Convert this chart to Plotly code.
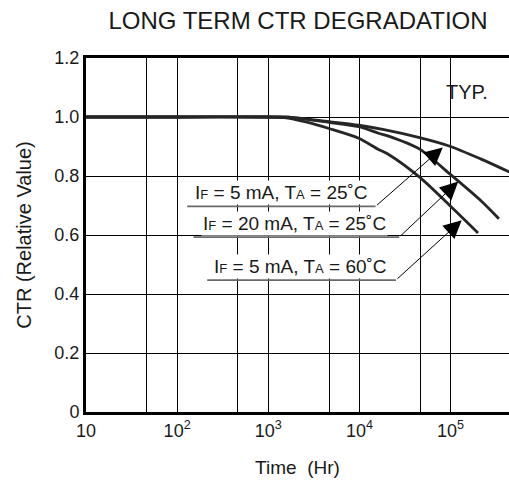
import plotly.graph_objects as go

# ---- data ----
hours_a = [10, 100, 1000, 1780, 4640, 9800, 18600, 45700, 98000, 214000, 446000]
ctr_a = [1.0, 1.0, 1.0, 0.999, 0.984, 0.972, 0.957, 0.930, 0.901, 0.858, 0.813]

hours_b = [10, 100, 1000, 1780, 4640, 9800, 16200, 20900, 45700, 98000, 214000, 339000]
ctr_b = [1.0, 1.0, 1.0, 0.999, 0.982, 0.967, 0.945, 0.935, 0.891, 0.807, 0.717, 0.655]

hours_c = [10, 100, 1000, 1580, 2510, 4640, 9800, 16200, 20900, 45700, 98000, 200000]
ctr_c = [1.0, 1.0, 1.0, 0.997, 0.984, 0.961, 0.928, 0.890, 0.873, 0.796, 0.700, 0.607]

series_names = ["I<sub>F</sub> = 5 mA, T<sub>A</sub> = 25°C",
                "I<sub>F</sub> = 20 mA, T<sub>A</sub> = 25°C",
                "I<sub>F</sub> = 5 mA, T<sub>A</sub> = 60°C"]

x_tickvals = [10, 100, 1000, 10000, 100000]
x_ticktext = ["10", "10<sup>2</sup>", "10<sup>3</sup>", "10<sup>4</sup>", "10<sup>5</sup>"]
x_minor_gridvals = [46.4, 464, 4640, 46400]
y_tickvals = [0, 0.2, 0.4, 0.6, 0.8, 1.0, 1.2]
y_ticktext = ["0", "0.2", "0.4", "0.6", "0.8", "1.0", "1.2"]

# label placement (log10 hours, CTR)
label_text = ["I<span style='font-size:13px'>F</span> = 5 mA, T<span style='font-size:13px'>A</span> = 25˚C",
              "I<span style='font-size:13px'>F</span> = 20 mA, T<span style='font-size:13px'>A</span> = 25˚C",
              "I<span style='font-size:13px'>F</span> = 5 mA, T<span style='font-size:13px'>A</span> = 60˚C"]
label_left = [2.11, 2.18, 2.33]
label_right = [4.177, 4.437, 4.40]
label_y = [0.697, 0.593, 0.447]
label_cx = [3.15, 3.29, 3.35]
tip_x = [4.914, 5.084, 5.122]
tip_y = [0.897, 0.781, 0.650]

ink = "#1a1a1a"
fig = go.Figure()
for hx, cy, nm in [(hours_a, ctr_a, series_names[0]),
                   (hours_b, ctr_b, series_names[1]),
                   (hours_c, ctr_c, series_names[2])]:
    fig.add_trace(go.Scatter(x=hx, y=cy, mode="lines", name=nm,
                             line=dict(color="#262626", width=2.8, shape="spline", smoothing=0.8),
                             showlegend=False))

annotations = []
shapes = []
for i in range(3):
    # underline (shape positions on a log axis are raw data values)
    shapes.append(dict(type="line", xref="x", yref="y",
                       x0=10 ** label_left[i], x1=10 ** label_right[i],
                       y0=label_y[i], y1=label_y[i],
                       line=dict(color="#6a6a6a", width=1.8)))
    # text
    annotations.append(dict(x=label_cx[i], y=label_y[i] + 0.004, xref="x", yref="y",
                            text=label_text[i], showarrow=False, xanchor="center", yanchor="bottom",
                            bgcolor="white", borderpad=1,
                            font=dict(family="Liberation Sans, Arial", size=19, color=ink)))
    # leader with arrow
    annotations.append(dict(x=tip_x[i], y=tip_y[i], ax=label_right[i], ay=label_y[i],
                            xref="x", yref="y", axref="x", ayref="y", text="",
                            showarrow=True, arrowhead=2, arrowsize=3.6, arrowwidth=1,
                            arrowcolor="black"))

annotations.append(dict(x=5.178, y=1.084, xref="x", yref="y", text="TYP.", showarrow=False,
                        font=dict(family="Liberation Sans, Arial", size=20, color=ink)))

fig.update_layout(
    width=509, height=483,
    margin=dict(l=86, r=0, t=58, b=71, autoexpand=False),
    paper_bgcolor="white", plot_bgcolor="white",
    title=dict(text="LONG TERM CTR DEGRADATION", x=298 / 509, xanchor="center",
               y=1 - 21 / 483, yanchor="middle",
               font=dict(family="Liberation Sans, Arial", size=24, color=ink)),
    annotations=annotations,
    shapes=shapes,
    font=dict(family="Liberation Sans, Arial", color=ink),
)
fig.update_xaxes(type="log", range=[1, 5.641], tickvals=x_tickvals, ticktext=x_ticktext,
                 showgrid=True, gridcolor="black", gridwidth=1.3, automargin=False,
                 minor=dict(tickvals=x_minor_gridvals, showgrid=True, gridcolor="black",
                            gridwidth=1.3, ticks=""),
                 showline=True, linecolor="black", linewidth=3, mirror=True,
                 ticks="", tickfont=dict(size=18, color=ink),
                 title=dict(text="Time\u00a0 (Hr)", font=dict(size=19, color=ink), standoff=22),
                 zeroline=False)
fig.update_yaxes(range=[0, 1.2], tickvals=y_tickvals, ticktext=y_ticktext,
                 showgrid=True, gridcolor="black", gridwidth=1.3, automargin=False,
                 showline=True, linecolor="black", linewidth=3, mirror=False,
                 ticks="", tickfont=dict(size=18, color=ink),
                 title=dict(text="CTR (Relative Value)", font=dict(size=20, color=ink), standoff=18),
                 zeroline=False)

fig.write_html("out.html", config={"displayModeBar": False},
               post_script="document.body.style.margin='0px';")
